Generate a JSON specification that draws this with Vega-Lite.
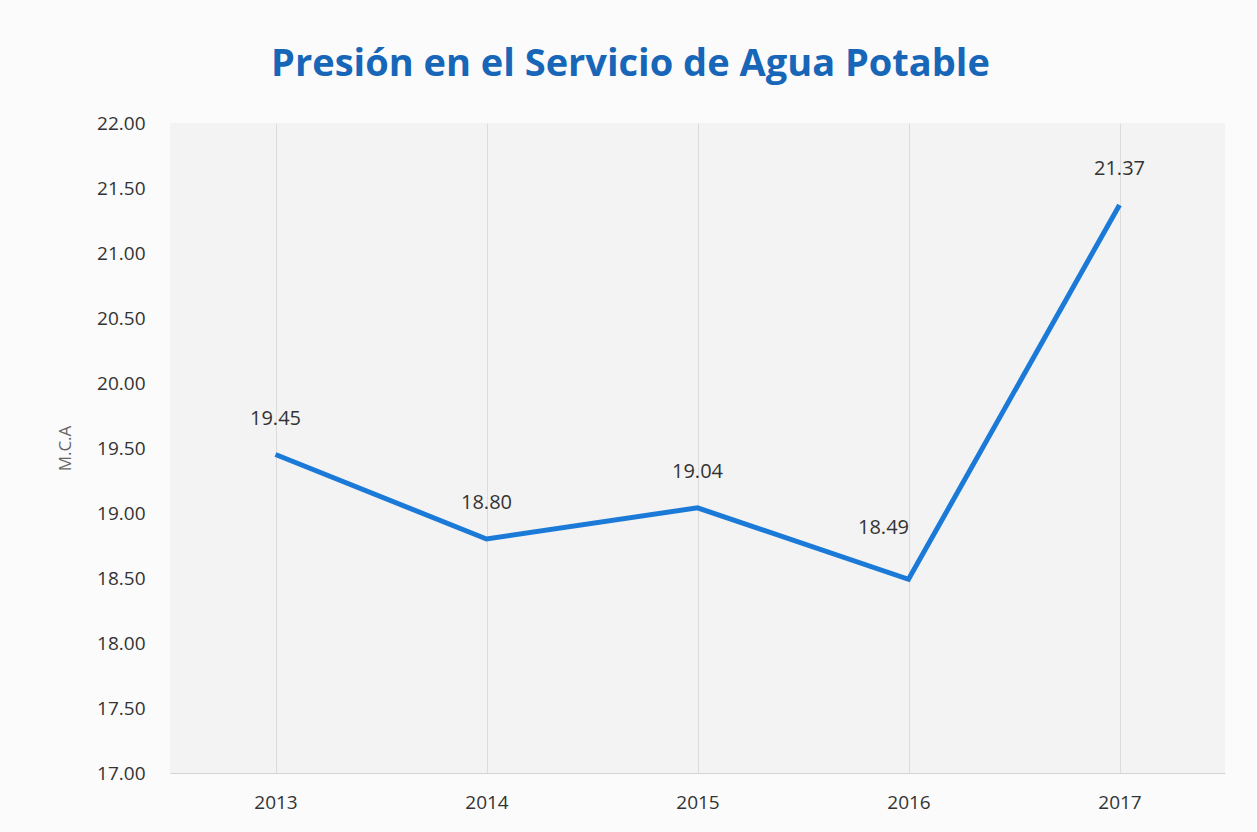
{
  "$schema": "https://vega.github.io/schema/vega-lite/v6.json",
  "width": 1055,
  "height": 650,
  "autosize": {"type": "none"},
  "padding": {"left": 170, "top": 123, "right": 32, "bottom": 59},
  "background": "#fbfbfb",
  "title": {
    "text": "Presión en el Servicio de Agua Potable",
    "font": "Open Sans",
    "fontSize": 38,
    "fontWeight": "bold",
    "color": "#1766b8",
    "anchor": "middle",
    "dx": -67,
    "offset": 30
  },
  "config": {
    "view": {"stroke": null, "fill": "#f3f3f3"},
    "axis": {"labelFont": "Open Sans", "titleFont": "Open Sans", "labelColor": "#333333", "labelFontSize": 19}
  },
  "data": {
    "values": [
      {"year": "2013", "value": 19.45},
      {"year": "2014", "value": 18.80},
      {"year": "2015", "value": 19.04},
      {"year": "2016", "value": 18.49},
      {"year": "2017", "value": 21.37}
    ]
  },
  "encoding": {
    "x": {
      "field": "year",
      "type": "ordinal",
      "scale": {"type": "point", "padding": 0.5},
      "axis": {
        "title": null,
        "labelAngle": 0,
        "ticks": false,
        "grid": true,
        "gridColor": "#dcdcdc",
        "gridWidth": 1,
        "domain": true,
        "domainColor": "#d4d4d4",
        "labelPadding": 20
      }
    },
    "y": {
      "field": "value",
      "type": "quantitative",
      "scale": {"domain": [17, 22], "zero": false, "nice": false},
      "axis": {
        "title": "M.C.A",
        "titleColor": "#666666",
        "titleFontSize": 17,
        "titleFontWeight": "normal",
        "titlePadding": 22,
        "values": [17, 17.5, 18, 18.5, 19, 19.5, 20, 20.5, 21, 21.5, 22],
        "format": ".2f",
        "grid": false,
        "domain": false,
        "ticks": false,
        "labelPadding": 25
      }
    }
  },
  "layer": [
    {"mark": {"type": "line", "color": "#1b7ad8", "strokeWidth": 5, "strokeJoin": "miter"}},
    {
      "transform": [{"filter": "datum.year != '2016'"}],
      "mark": {"type": "text", "dy": -36, "fontSize": 20, "font": "Open Sans", "color": "#333333"},
      "encoding": {"text": {"field": "value", "type": "quantitative", "format": ".2f"}}
    },
    {
      "transform": [{"filter": "datum.year == '2016'"}],
      "mark": {"type": "text", "dy": -51, "dx": -25, "fontSize": 20, "font": "Open Sans", "color": "#333333"},
      "encoding": {"text": {"field": "value", "type": "quantitative", "format": ".2f"}}
    }
  ]
}
